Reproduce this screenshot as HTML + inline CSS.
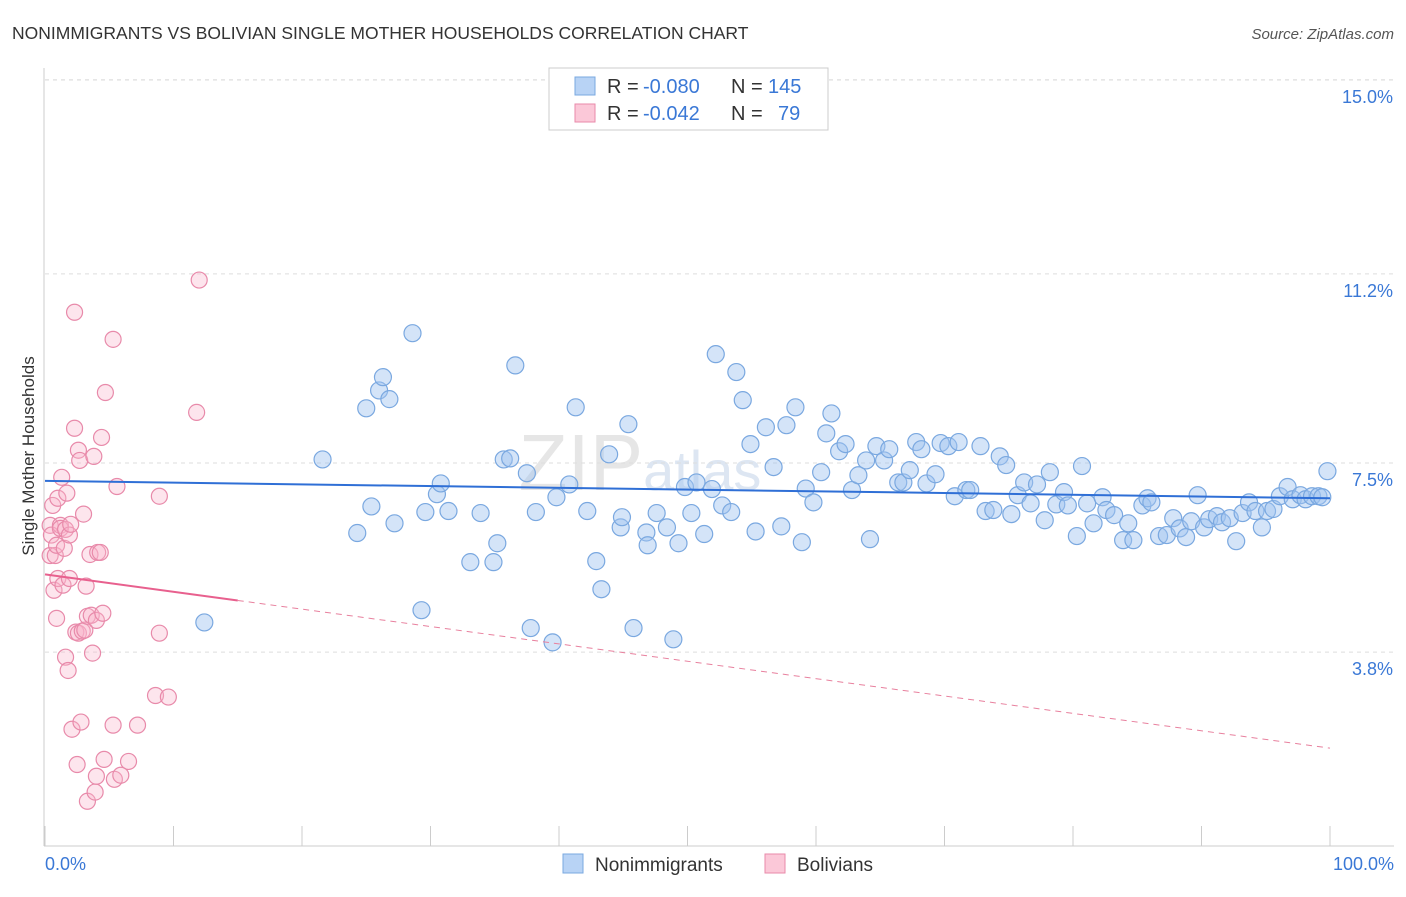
<!DOCTYPE html>
<html><head><meta charset="utf-8"><style>
body{margin:0;background:#fff;font-family:"Liberation Sans",sans-serif}
svg text{font-family:"Liberation Sans",sans-serif}
</style></head><body>
<svg id="chart" width="1406" height="892" xmlns="http://www.w3.org/2000/svg">
<text x="12" y="39" font-size="17.5" fill="#333">NONIMMIGRANTS VS BOLIVIAN SINGLE MOTHER HOUSEHOLDS CORRELATION CHART</text>
<text x="1394" y="39" font-size="15" fill="#555" font-style="italic" text-anchor="end">Source: ZipAtlas.com</text>
<text x="640" y="490" font-size="80" fill="#e6e6e6" font-family="Liberation Serif" text-anchor="middle">ZIP<tspan font-size="56" fill="#dde6f2" font-family="Liberation Sans">atlas</tspan></text>
<g id="grid"></g>
<g id="axes"></g>
<g id="marks"></g>
<g id="legend">
<rect x="549" y="68" width="279" height="62" fill="#fff" stroke="#ccc"/>
<rect x="575" y="77" width="20" height="18" fill="#b8d3f5" stroke="#7aa8e0"/>
<rect x="575" y="104" width="20" height="18" fill="#bfc8d8" stroke="#e88aaa" style="fill:#fbc8d8"/>
<text x="607" y="93" font-size="20" fill="#333">R =<tspan x="643" fill="#3a78d6">-0.080</tspan><tspan x="731">N =</tspan><tspan x="768" fill="#3a78d6">145</tspan></text>
<text x="607" y="120" font-size="20" fill="#333">R =<tspan x="643" fill="#3a78d6">-0.042</tspan><tspan x="731">N =</tspan><tspan x="778" fill="#3a78d6">79</tspan></text>
</g>
<g>
<rect x="563" y="854" width="20" height="19" fill="#b8d3f5" stroke="#7aa8e0"/>
<text x="595" y="871" font-size="19" fill="#333">Nonimmigrants</text>
<rect x="765" y="854" width="20" height="19" fill="#fbc8d8" stroke="#e88aaa"/>
<text x="797" y="871" font-size="19" fill="#333">Bolivians</text>
</g>
<text x="34" y="456" font-size="17" fill="#333" text-anchor="middle" transform="rotate(-90 34 456)">Single Mother Households</text>
<text x="45" y="870" font-size="18" fill="#3a78d6">0.0%</text>
<text x="1394" y="870" font-size="18" fill="#3a78d6" text-anchor="end">100.0%</text>
</svg>
<script>
const yTicks=[15.0,11.2,7.5,3.8];
const yTickLabels=["15.0%","11.2%","7.5%","3.8%"];
const xTicks=[0,10,20,30,40,50,60,70,80,90,100];
const blueX=[12.4,21.6,24.3,25.0,25.4,26.0,26.3,26.8,27.2,28.6,29.3,29.6,30.5,30.8,31.4,33.1,33.9,34.9,35.2,35.7,36.2,36.6,37.5,37.8,38.2,39.5,39.8,40.8,41.3,42.2,42.9,43.3,43.9,44.8,44.9,45.4,45.8,46.8,46.9,47.6,48.4,48.9,49.3,49.8,50.3,50.7,51.3,51.9,52.2,52.7,53.4,53.8,54.3,54.9,55.3,56.1,56.7,57.3,57.7,58.4,58.9,59.2,59.8,60.4,60.8,61.2,61.8,62.3,62.8,63.3,63.9,64.2,64.7,65.3,65.7,66.4,66.8,67.3,67.8,68.2,68.6,69.3,69.7,70.3,70.8,71.1,71.7,72.0,72.8,73.2,73.8,74.3,74.8,75.2,75.7,76.2,76.7,77.2,77.8,78.2,78.7,79.3,79.6,80.3,80.7,81.1,81.6,82.3,82.6,83.2,83.9,84.3,84.7,85.4,85.8,86.1,86.7,87.3,87.8,88.3,88.8,89.2,89.7,90.2,90.6,91.2,91.6,92.2,92.7,93.2,93.7,94.2,94.7,95.1,95.6,96.1,96.7,97.1,97.7,98.1,98.6,99.1,99.4,99.8];
const blueY=[4.38,7.57,6.13,8.57,6.65,8.92,9.18,8.75,6.32,10.04,4.62,6.54,6.89,7.10,6.56,5.56,6.52,5.56,5.93,7.57,7.59,9.41,7.30,4.27,6.54,3.99,6.83,7.08,8.59,6.56,5.58,5.03,7.67,6.24,6.44,8.26,4.27,6.14,5.89,6.52,6.24,4.05,5.93,7.03,6.52,7.12,6.11,6.99,9.63,6.67,6.54,9.28,8.73,7.87,6.16,8.20,7.42,6.26,8.24,8.59,5.95,7.0,6.73,7.32,8.08,8.47,7.73,7.87,6.97,7.26,7.55,6.01,7.83,7.55,7.77,7.12,7.12,7.36,7.91,7.77,7.10,7.28,7.89,7.83,6.85,7.91,6.97,6.97,7.83,6.56,6.58,7.63,7.46,6.50,6.87,7.12,6.71,7.08,6.38,7.32,6.69,6.93,6.67,6.07,7.44,6.71,6.32,6.83,6.58,6.48,5.99,6.32,5.99,6.67,6.81,6.73,6.07,6.09,6.42,6.22,6.05,6.36,6.87,6.24,6.40,6.46,6.34,6.42,5.97,6.52,6.73,6.56,6.24,6.56,6.60,6.85,7.03,6.79,6.87,6.79,6.85,6.85,6.83,7.34];
const pinkX=[0.4,0.4,0.5,0.6,0.7,0.8,0.9,0.9,1.0,1.0,1.2,1.2,1.3,1.4,1.5,1.6,1.6,1.7,1.8,1.9,1.9,2.0,2.1,2.3,2.3,2.4,2.5,2.6,2.6,2.7,2.8,2.9,3.0,3.1,3.2,3.3,3.3,3.5,3.6,3.7,3.8,3.9,4.0,4.0,4.1,4.3,4.4,4.5,4.6,4.7,5.3,5.3,5.4,5.6,5.9,6.5,7.2,8.6,8.9,8.9,9.6,11.8,12.0];
const pinkY=[6.28,5.69,6.09,6.67,5.01,5.69,4.46,5.89,6.81,5.24,6.28,6.22,7.22,5.11,5.83,3.70,6.20,6.91,3.44,5.24,6.09,6.30,2.29,10.45,8.18,4.19,1.60,7.75,4.17,7.55,2.43,4.21,6.50,4.23,5.09,0.88,4.50,5.71,4.52,3.78,7.63,1.06,4.42,1.37,5.75,5.75,8.0,4.56,1.70,8.88,9.92,2.37,1.31,7.04,1.39,1.66,2.37,2.95,6.85,4.17,2.92,8.49,11.08];
const blueTrend=[7.15,6.81];
const pinkTrend=[5.32,1.92];
const pinkSolidEnd=15;

const NS="http://www.w3.org/2000/svg";
const X0=45,X1=1330,Y0=846.25,PY=51.1;
function sx(v){return X0+(X1-X0)*v/100;}
function sy(v){return Y0-v*PY;}
function mk(tag,attrs,parent){const e=document.createElementNS(NS,tag);for(const k in attrs)e.setAttribute(k,attrs[k]);parent.appendChild(e);return e;}
const grid=document.getElementById('grid'),axes=document.getElementById('axes'),marks=document.getElementById('marks');
let g=mk('line',{x1:45,x2:1394,y1:80,y2:80,stroke:'#ddd','stroke-dasharray':'4,4'},grid);


yTicks.forEach((t,i)=>{
 const l=mk('line',{x1:45,x2:1394,y1:sy(t),y2:sy(t),stroke:'#ddd','stroke-dasharray':'4,4'},grid);
 
 
 const tx=mk('text',{x:1393,y:sy(t)+23,'font-size':18,fill:'#3a78d6','text-anchor':'end'},grid);
 tx.textContent=yTickLabels[i];
 
 
});
let a=mk('line',{x1:44,x2:44,y1:68,y2:846,stroke:'#ccc'},axes);


a=mk('line',{x1:44,x2:1394,y1:846,y2:846,stroke:'#ccc'},axes);


xTicks.forEach(t=>{
 const l=mk('line',{x1:sx(t),x2:sx(t),y1:826,y2:846,stroke:'#ccc'},axes);
 
 
});
blueX.forEach((x,i)=>{
 const c=mk('circle',{cx:sx(x),cy:sy(blueY[i]),r:8.5,fill:'rgba(160,196,240,0.45)',stroke:'#7aa8e0','stroke-width':1.2},marks);
 
 
});
pinkX.forEach((x,i)=>{
 const c=mk('circle',{cx:sx(x),cy:sy(pinkY[i]),r:8,fill:'rgba(248,180,204,0.35)',stroke:'#e88aaa','stroke-width':1.2},marks);
 
 
});
let t=mk('line',{x1:sx(0),x2:sx(100),y1:sy(blueTrend[0]),y2:sy(blueTrend[1]),stroke:'#2f6fd6','stroke-width':2},marks);


const pAt=v=>pinkTrend[0]+(pinkTrend[1]-pinkTrend[0])*v/100;
t=mk('line',{x1:sx(0),x2:sx(pinkSolidEnd),y1:sy(pAt(0)),y2:sy(pAt(pinkSolidEnd)),stroke:'#e8608e','stroke-width':2},marks);


t=mk('line',{x1:sx(pinkSolidEnd),x2:sx(100),y1:sy(pAt(pinkSolidEnd)),y2:sy(pAt(100)),stroke:'#e8809e','stroke-width':1,'stroke-dasharray':'6,5'},marks);


</script>
</body></html>
